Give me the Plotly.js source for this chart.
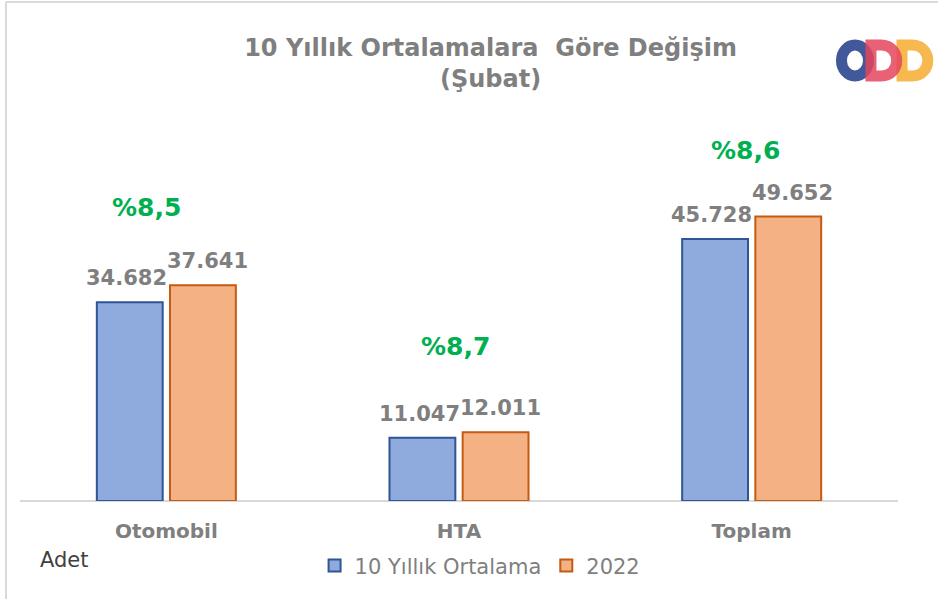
<!DOCTYPE html>
<html>
<head>
<meta charset="utf-8">
<script src="https://cdn.plot.ly/plotly-3.0.1.min.js"></script>
<style>body{margin:0;padding:0;background:#fff;}#chart{width:938px;height:599px;}</style>
</head>
<body>
<div id="chart"></div>
<script>
const categories = ["Otomobil", "HTA", "Toplam"];
const avg10 = [34682, 11047, 45728];
const y2022 = [37641, 12011, 49652];
const avgLabels = ["34.682", "11.047", "45.728"];
const y2022Labels = ["37.641", "12.011", "49.652"];
const changeLabels = ["%8,5", "%8,7", "%8,6"];
const changeLabelY = [51200, 27000, 61100];
const seriesNames = ["10 Yıllık Ortalama", "2022"];

const traces = [
  {
    type: "bar", name: seriesNames[0], x: categories, y: avg10,
    marker: {color: "#8faadc", line: {color: "#2f5597", width: 2}},
    hoverinfo: "skip"
  },
  {
    type: "bar", name: seriesNames[1], x: categories, y: y2022,
    marker: {color: "#f4b183", line: {color: "#c55a11", width: 2}},
    hoverinfo: "skip"
  }
];

const labelFont = {family: "DejaVu Sans", size: 21, color: "#7f7f7f"};
const annotations = [];
categories.forEach((c, i) => {
  annotations.push({x: c, y: avg10[i], xref: "x", yref: "y", xshift: -40, yshift: 10,
    yanchor: "bottom", text: "<b>" + avgLabels[i] + "</b>", showarrow: false, font: labelFont});
  annotations.push({x: c, y: y2022[i], xref: "x", yref: "y", xshift: 41, yshift: 10,
    yanchor: "bottom", text: "<b>" + y2022Labels[i] + "</b>", showarrow: false, font: labelFont});
  annotations.push({x: c, y: changeLabelY[i], xref: "x", yref: "y", xshift: [-20, -4, -6][i],
    text: "<b>" + changeLabels[i] + "</b>", showarrow: false,
    font: {family: "DejaVu Sans", size: 25, color: "#00b050"}});
});
annotations.push({
  x: 0.02, y: -0.147, xref: "paper", yref: "paper", xanchor: "left", yanchor: "middle",
  text: "Adet", showarrow: false, font: {family: "DejaVu Sans", size: 21, color: "#404040"}
});

const dPath = "M -13,-15.5 L -13,15.5 L -3,15.5 C 18,15.5 18,-15.5 -3,-15.5 Z";
const logoY = 1.0985;
const shapes = [
  // chart frame (top and left edges)
  {type: "line", xref: "paper", yref: "paper", xsizemode: "pixel", ysizemode: "pixel",
   xanchor: 0, yanchor: 1, x0: -14, x1: 940, y0: 98, y1: 98, line: {color: "#d9d9d9", width: 2}},
  {type: "line", xref: "paper", yref: "paper", xsizemode: "pixel", ysizemode: "pixel",
   xanchor: 0, yanchor: 1, x0: -14, x1: -14, y0: 98, y1: -505, line: {color: "#d9d9d9", width: 2}},
  // logo
  {type: "circle", xref: "paper", yref: "paper", xsizemode: "pixel", ysizemode: "pixel",
   xanchor: 0.951, yanchor: logoY, x0: -13.5, x1: 13.5, y0: -15.5, y1: 15.5,
   line: {color: "#41589a", width: 11}, fillcolor: "rgba(0,0,0,0)", layer: "above"},
  {type: "path", xref: "paper", yref: "paper", xsizemode: "pixel", ysizemode: "pixel",
   xanchor: 1.0194, yanchor: logoY, path: dPath,
   line: {color: "#f7b850", width: 11}, fillcolor: "rgba(0,0,0,0)", layer: "above"},
  {type: "path", xref: "paper", yref: "paper", xsizemode: "pixel", ysizemode: "pixel",
   xanchor: 0.984, yanchor: logoY, path: dPath, opacity: 0.85,
   line: {color: "#e4465c", width: 11}, fillcolor: "rgba(0,0,0,0)", layer: "above"}
];

const layout = {
  width: 938, height: 599,
  margin: {l: 20, r: 40, t: 100, b: 98},
  paper_bgcolor: "#ffffff", plot_bgcolor: "#ffffff",
  title: {
    text: "<b>10 Yıllık Ortalamalara  Göre Değişim<br>(Şubat)</b>",
    x: 0.523, xanchor: "center", y: 0.907, yanchor: "top", yref: "container",
    font: {family: "DejaVu Sans", size: 24, color: "#7f7f7f"}
  },
  barmode: "group", bargap: 0.5, bargroupgap: 0.1,
  xaxis: {
    showgrid: false, zeroline: false, showline: false, ticks: "",
    tickfont: {family: "DejaVu Sans", size: 20, color: "#7f7f7f", weight: "bold"},
    ticklabelstandoff: 16
  },
  yaxis: {
    range: [0, 70000], showgrid: false, zeroline: true, zerolinecolor: "#d9d9d9", zerolinewidth: 2,
    showticklabels: false, showline: false, ticks: ""
  },
  showlegend: true,
  legend: {
    orientation: "h", x: 0.524, xanchor: "center", y: -0.162, yanchor: "middle",
    font: {family: "DejaVu Sans", size: 21, color: "#7f7f7f"}, traceorder: "normal"
  },
  annotations: annotations,
  shapes: shapes
};

Plotly.newPlot("chart", traces, layout, {displayModeBar: false, staticPlot: true});
</script>
</body>
</html>
